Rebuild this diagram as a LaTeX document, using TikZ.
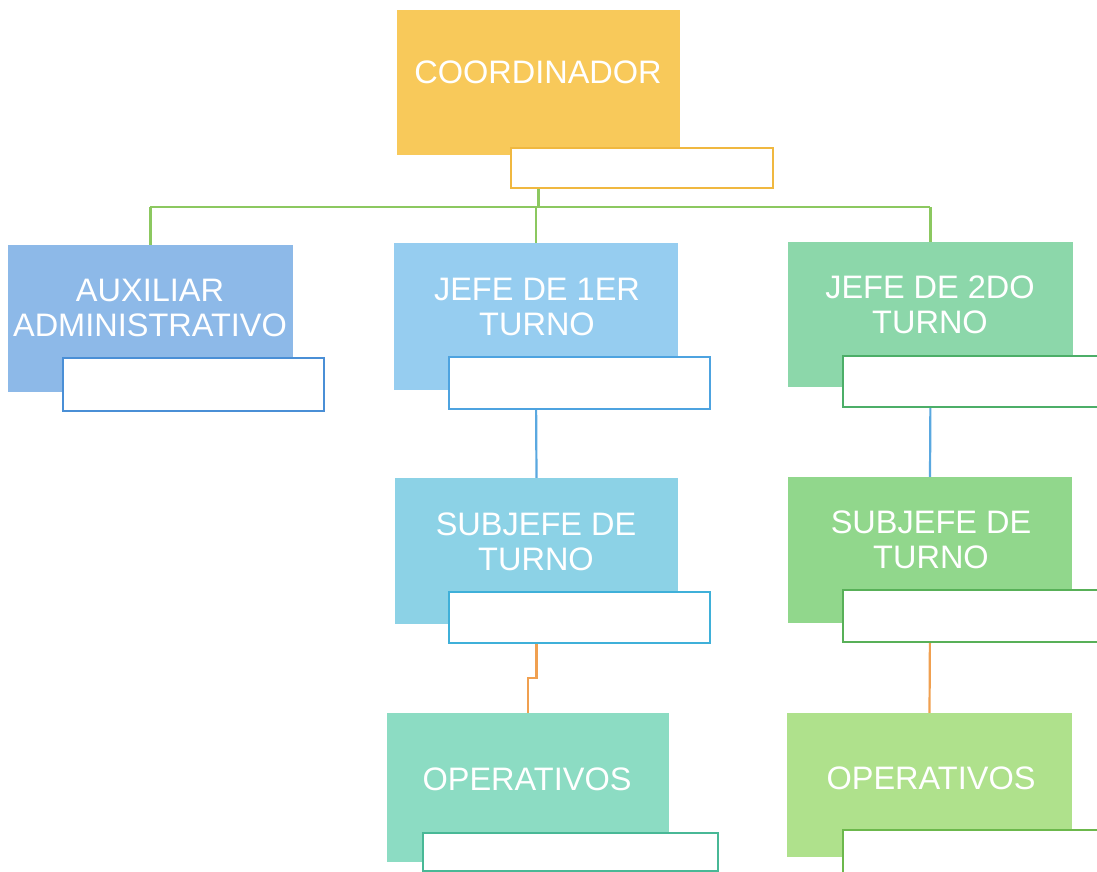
\documentclass[tikz,border=0pt]{standalone}
\usepackage{fontspec}
\setmainfont{Liberation Sans}
\usetikzlibrary{backgrounds}
\definecolor{cCoord}{HTML}{F8C95A}
\definecolor{bCoord}{HTML}{F0B840}
\definecolor{cAux}{HTML}{8DB9E8}
\definecolor{bAux}{HTML}{4A8FD6}
\definecolor{cJefeA}{HTML}{96CDF0}
\definecolor{bJefeA}{HTML}{4DA3E0}
\definecolor{cJefeB}{HTML}{8CD7AA}
\definecolor{bJefeB}{HTML}{4CAE68}
\definecolor{cSubA}{HTML}{8CD2E6}
\definecolor{bSubA}{HTML}{3FB0D9}
\definecolor{cSubB}{HTML}{91D78C}
\definecolor{bSubB}{HTML}{58B058}
\definecolor{cOpA}{HTML}{8CDCC3}
\definecolor{bOpA}{HTML}{48B896}
\definecolor{cOpB}{HTML}{AFE18C}
\definecolor{bOpB}{HTML}{6CB84C}
\definecolor{lnGreen}{HTML}{8CC860}
\definecolor{lnBlue}{HTML}{5AA8E0}
\definecolor{lnOrange}{HTML}{F0A050}
\tikzset{
  rolebox/.style={rectangle, inner sep=0pt, draw=none},
  tagbox/.style={rectangle, inner sep=0pt, fill=white, line width=1.8pt},
  roletext/.style={text=white, inner sep=0pt, align=center, font=\fontsize{32.5}{35}\selectfont},
  conn/.style={line width=2.2pt},
}
\begin{document}
\begin{tikzpicture}[x=1pt,y=-1pt]
\clip (0,0) rectangle (1097,872);
% boxes
\node[rolebox, fill=cCoord, minimum width=283pt, minimum height=145pt] (coord) at (538.5,82.5) {};
\node[tagbox, draw=bCoord, minimum width=262pt, minimum height=40pt] (coordtag) at (642,168) {};
\node[roletext] (coordtxt) at (538,72) {COORDINADOR};

\node[rolebox, fill=cAux, minimum width=285pt, minimum height=147pt] (aux) at (150.5,318.5) {};
\node[tagbox, draw=bAux, minimum width=261pt, minimum height=53pt] (auxtag) at (193.5,384.5) {};
\node[roletext] (auxtxt) at (150,308) {AUXILIAR\\ADMINISTRATIVO};

\node[rolebox, fill=cJefeA, minimum width=284pt, minimum height=147pt] (jefea) at (536,316.5) {};
\node[tagbox, draw=bJefeA, minimum width=261pt, minimum height=52pt] (jefeatag) at (579.5,383) {};
\node[roletext] (jefeatxt) at (537,307) {JEFE DE 1ER\\TURNO};

\node[rolebox, fill=cJefeB, minimum width=285pt, minimum height=145pt] (jefeb) at (930.5,314.5) {};
\node[tagbox, draw=bJefeB, minimum width=267pt, minimum height=51pt] (jefebtag) at (976.5,381.5) {};
\node[roletext] (jefebtxt) at (930,305) {JEFE DE 2DO\\TURNO};

\node[rolebox, fill=cSubA, minimum width=283pt, minimum height=146pt] (suba) at (536.5,551) {};
\node[tagbox, draw=bSubA, minimum width=261pt, minimum height=51pt] (subatag) at (579.5,617.5) {};
\node[roletext] (subatxt) at (536,542) {SUBJEFE DE\\TURNO};

\node[rolebox, fill=cSubB, minimum width=284pt, minimum height=146pt] (subb) at (930,550) {};
\node[tagbox, draw=bSubB, minimum width=267pt, minimum height=52pt] (subbtag) at (976.5,616) {};
\node[roletext] (subbtxt) at (931,540) {SUBJEFE DE\\TURNO};

\node[rolebox, fill=cOpA, minimum width=282pt, minimum height=149pt] (opa) at (528,787.5) {};
\node[tagbox, draw=bOpA, minimum width=295pt, minimum height=38pt] (opatag) at (570.5,852) {};
\node[roletext] (opatxt) at (527,779) {OPERATIVOS};

\node[rolebox, fill=cOpB, minimum width=285pt, minimum height=144pt] (opb) at (929.5,785) {};
\node[tagbox, draw=bOpB, minimum width=267pt, minimum height=50pt] (opbtag) at (976.5,855) {};
\node[roletext] (opbtxt) at (931,778) {OPERATIVOS};

% connectors
\coordinate (busL) at (150,207);
\coordinate (busR) at (930,207);
\coordinate (jog) at (530,678);
\begin{scope}[on background layer]
\fill[white] (0,0) rectangle (1097,872);
\draw[conn, lnGreen] (busL) -- (busR);
\draw[conn, lnGreen] (coord.south) -- (coord.south |- busL);
\draw[conn, lnGreen] (aux.north) -- (aux.north |- busL);
\draw[conn, lnGreen] (jefea.north) -- (jefea.north |- busL);
\draw[conn, lnGreen] (jefeb.north) -- (jefeb.north |- busL);
\draw[conn, lnBlue] (jefea.south) -- (suba.north);
\draw[conn, lnBlue] (jefeb.south) -- (subb.north);
\draw[conn, lnOrange] (suba.south) |- (jog) -| (opa.north);
\draw[conn, lnOrange] (subb.south) -- (opb.north);
\end{scope}
\end{tikzpicture}
\end{document}
